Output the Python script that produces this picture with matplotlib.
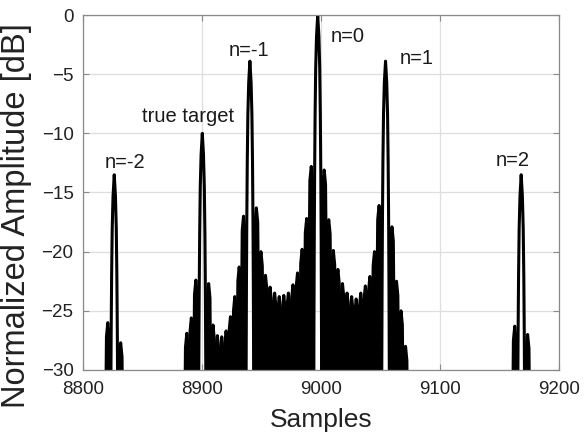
import numpy as np
from matplotlib import pyplot as plt

plt.rcParams['font.family'] = ['Liberation Sans', 'DejaVu Sans']

# main peaks: sample index and level in dB
peak_labels = ['n=-2', 'true target', 'n=-1', 'n=0', 'n=1', 'n=2']
peak_samples = [8826, 8900, 8940, 8997, 9054, 9168]
peak_db = [-13.5, -10.0, -3.9, 0.0, -3.9, -13.5]

# where each label is written (sample, dB at baseline)
label_x = [8835, 8888, 8939, 9022, 9080, 9161]
label_y = [-12.9, -9.0, -3.45, -2.25, -4.1, -12.8]

# sidelobe tops [dB]
# outer groups go away from their peak, gap groups go left to right
sl_left_n2 = [-26.0]
sl_right_n2 = [-27.7]
sl_left_tt = [-22.4, -25.6, -26.9]
sl_tt_to_m1 = [-22.7, -26.2, -27.1, -27.2, -26.7, -25.5, -23.8, -21.3, -17.0]
sl_m1_to_0 = [-16.3, -20.0, -22.0, -23.0, -23.5, -23.8, -23.7, -23.5, -22.8,
              -21.8, -19.8, -17.2, -12.8]
sl_0_to_p1 = [-13.1, -17.3, -19.9, -21.5, -22.7, -23.5, -23.8, -24.0, -23.5,
              -22.9, -22.1, -20.0, -16.1]
sl_right_p1 = [-17.9, -22.5, -25.0, -28.0]
sl_left_p2 = [-26.3]
sl_right_p2 = [-27.0]

# one side of a main lobe: offset [samples] / drop [dB]
main_off = [0, 1.0, 1.7, 2.2, 2.6, 2.9, 3.2, 3.5]
main_drop = [0, -1.8, -4.5, -8.5, -13.5, -19, -27, -50]
# one sidelobe, offset as a fraction of its width
side_off = [-0.5, -0.44, -0.3, 0, 0.3, 0.44, 0.5]
side_drop = [-50, -7, -1.2, 0, -1.2, -7, -50]
period = 3.8

LW = 2.2


def draw_main(ax, c, top):
    off = np.array(main_off)
    drop = np.array(main_drop)
    xs = np.concatenate([c - off[::-1], c + off[1:]])
    ys = np.concatenate([top + drop[::-1], top + drop[1:]])
    ax.plot(xs, ys, color='k', lw=LW)


def draw_sides(ax, start, width, levels):
    for k, lv in enumerate(levels):
        centre = start + (k + 0.5) * width
        xs = centre + abs(width) * np.array(side_off)
        ys = lv + np.array(side_drop)
        ax.fill(xs, ys, color='k', lw=0)
        ax.plot(xs, ys, color='k', lw=LW)


fig = plt.figure(figsize=(5.85, 4.44), dpi=100)
ax = fig.add_axes([0.1424, 0.1667, 0.8136, 0.7995])

for c, top in zip(peak_samples, peak_db):
    draw_main(ax, c, top)

nul = main_off[-1]
s = peak_samples
# outer groups
draw_sides(ax, s[0] - nul, -period, sl_left_n2)
draw_sides(ax, s[0] + nul, period, sl_right_n2)
draw_sides(ax, s[1] - nul, -period, sl_left_tt)
draw_sides(ax, s[4] + nul, period, sl_right_p1)
draw_sides(ax, s[5] - nul, -period, sl_left_p2)
draw_sides(ax, s[5] + nul, period, sl_right_p2)
# gaps filled between two peaks
for a, b, lv in [(s[1], s[2], sl_tt_to_m1), (s[2], s[3], sl_m1_to_0), (s[3], s[4], sl_0_to_p1)]:
    w = (b - a - 2 * nul) / len(lv)
    draw_sides(ax, a + nul, w, lv)

for txt, x, y in zip(peak_labels, label_x, label_y):
    ax.text(x, y, txt, ha='center', va='baseline', fontsize=14.5, color='#1a1a1a')

ax.set_xlim(8800, 9200)
ax.set_ylim(-30, 0)
ax.set_xticks(np.arange(8800, 9201, 100))
ax.set_yticks(np.arange(-30, 1, 5))
ax.grid(True, color='#dedede', lw=0.9)
ax.set_axisbelow(True)
ax.tick_params(direction='in', top=True, right=True, length=4, width=0.8,
               color='#8a8a8a', labelsize=13.5, labelcolor='#222222')
ax.tick_params(axis='x', pad=8)
ax.tick_params(axis='y', pad=7)
for sp in ax.spines.values():
    sp.set_color('#8a8a8a')
    sp.set_linewidth(0.9)

ax.set_xlabel('Samples', fontsize=19, color='#222222', labelpad=7)
ax.set_ylabel('Normalized Amplitude [dB]', fontsize=23.5, color='#222222')
ax.yaxis.set_label_coords(-0.108, 0.435)

fig.savefig('out.png', dpi=100)
